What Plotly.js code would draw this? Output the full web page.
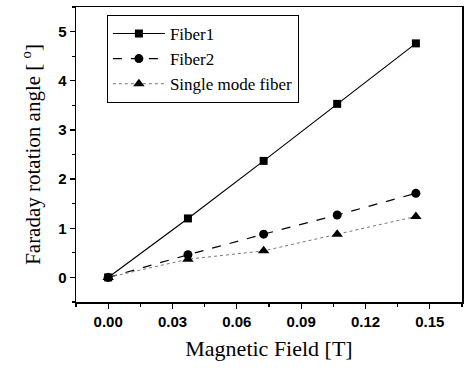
<!DOCTYPE html>
<html><head><meta charset="utf-8">
<script src="https://cdn.plot.ly/plotly-3.0.1.min.js"></script>
<style>html,body{margin:0;padding:0;background:#fff}#c{width:464px;height:368px}</style>
</head><body><div id="c"></div>
<script>
var field = [0.0, 0.0372, 0.0725, 0.1068, 0.1435];
var fiber1 = [0.0, 1.20, 2.37, 3.53, 4.76];
var fiber2 = [0.0, 0.46, 0.88, 1.27, 1.71];
var singleMode = [0.0, 0.37, 0.54, 0.88, 1.24];
var seriesNames = ["Fiber1", "Fiber2", "Single mode fiber"];
var xTicks = [0.00, 0.03, 0.06, 0.09, 0.12, 0.15];
var xTickText = ["0.00", "0.03", "0.06", "0.09", "0.12", "0.15"];
var yTicks = [0, 1, 2, 3, 4, 5];

var traces = [
  {x: field, y: fiber1, name: seriesNames[0], mode: 'lines+markers',
   line: {color: '#000', width: 1.2, dash: 'solid'},
   marker: {symbol: 'square', size: 8, color: '#000'}},
  {x: field, y: fiber2, name: seriesNames[1], mode: 'lines+markers',
   line: {color: '#000', width: 1.2, dash: 'dash'},
   marker: {symbol: 'circle', size: 9, color: '#000'}},
  {x: field, y: singleMode, name: seriesNames[2], mode: 'lines+markers',
   line: {color: '#777', width: 1, dash: 'dot'},
   marker: {symbol: 'triangle-up', size: 10, color: '#000'}}
];

var axisCommon = {
  showgrid: false, zeroline: false, showline: true, linecolor: '#000', linewidth: 1.5,
  mirror: true, ticks: 'outside', ticklen: 5, tickwidth: 1.2, tickcolor: '#000',
  tickfont: {family: 'Liberation Sans, Arial, sans-serif', size: 15, color: '#000', weight: 'bold'}
};

var layout = {
  width: 464, height: 368,
  margin: {l: 76, r: 2, t: 7, b: 66},
  paper_bgcolor: '#fff', plot_bgcolor: '#fff',
  showlegend: true,
  legend: {x: 0.08, y: 0.973, xanchor: 'left', yanchor: 'top',
    bordercolor: '#000', borderwidth: 1, bgcolor: '#fff',
    font: {family: 'Liberation Serif, Times New Roman, serif', size: 17, color: '#000'},
    tracegroupgap: 0, itemwidth: 52},
  xaxis: Object.assign({}, axisCommon, {
    range: [-0.015, 0.165], tickvals: xTicks, ticktext: xTickText,
    minor: {dtick: 0.015, tick0: 0, ticks: 'outside', ticklen: 3, tickcolor: '#000'},
    title: {text: 'Magnetic Field [T]', standoff: 12,
      font: {family: 'Liberation Serif, Times New Roman, serif', size: 22, color: '#000'}}
  }),
  yaxis: Object.assign({}, axisCommon, {
    range: [-0.5, 5.5], tickvals: yTicks,
    minor: {dtick: 0.5, tick0: 0, ticks: 'outside', ticklen: 3, tickcolor: '#000'},
    title: {text: 'Faraday rotation angle [ <sup>o</sup>]', standoff: 12,
      font: {family: 'Liberation Serif, Times New Roman, serif', size: 21, color: '#000'}}
  })
};

Plotly.newPlot('c', traces, layout, {displayModeBar: false, staticPlot: true});
</script>
</body></html>
